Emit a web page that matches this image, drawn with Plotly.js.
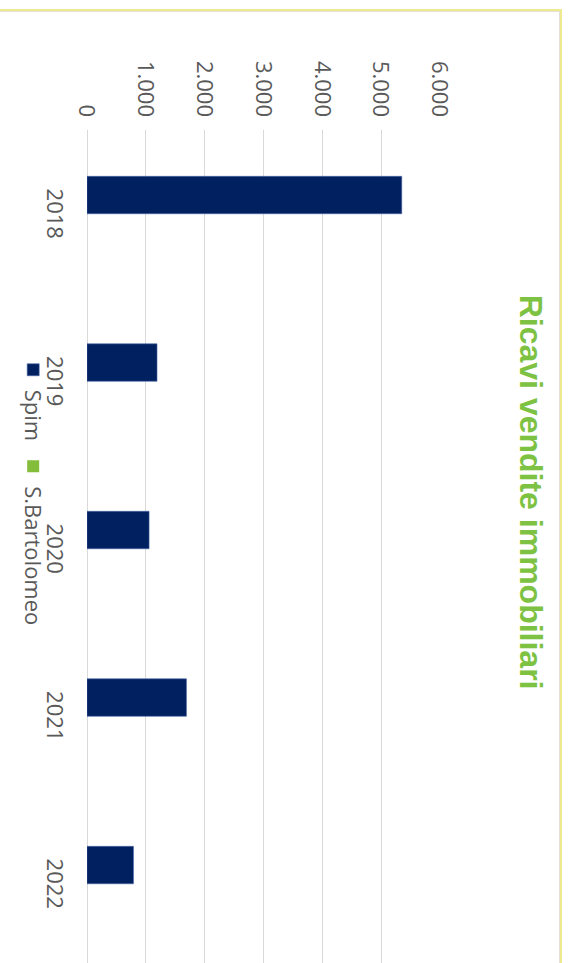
<!DOCTYPE html>
<html>
<head>
<meta charset="utf-8">
<script src="https://cdn.plot.ly/plotly-3.0.1.min.js"></script>
<style>
  html, body { margin: 0; padding: 0; background: #ffffff; overflow: hidden; }
  body { width: 582px; height: 963px; position: relative; }
  #wrap {
    position: absolute; left: 0; top: 0; width: 963px; height: 582px;
    transform-origin: 0 0; transform: translate(582px, 0) rotate(90deg);
    background: #ffffff;
  }
  #chart { position: absolute; left: 0; top: 0; width: 963px; height: 582px; }
  #frame {
    position: absolute; left: 9px; top: 20px; width: 960px; height: 570px;
    border-left: 2px solid #efe98f; border-top: 2px solid #efe98f;
    box-shadow: inset 1px 1px 0 #e4e0d8; pointer-events: none;
  }
</style>
</head>
<body>
<div id="wrap">
  <div id="chart"></div>
  <div id="frame"></div>
</div>
<script>
// Data
const years = ["2018", "2019", "2020", "2021", "2022"];
const spim = [5350, 1190, 1055, 1690, 790];
const sBartolomeo = [0, 0, 0, 0, 0];
const valueTicks = [0, 1000, 2000, 3000, 4000, 5000, 6000];
const valueTickLabels = ["0", "1.000", "2.000", "3.000", "4.000", "5.000", "6.000"];

const tickFont = { family: "Open Sans, Noto Sans, sans-serif", size: 22, color: "#595959" };

const traces = [
  { type: "bar", name: "Spim", x: years, y: spim,
    marker: { color: "#002060", line: { color: "#4a67a8", width: 0.6 } } },
  { type: "bar", name: "S.Bartolomeo", x: years, y: sBartolomeo,
    marker: { color: "#84bd3a" } }
];

const layout = {
  width: 963, height: 582,
  margin: { l: 129.5, r: 0, t: 142, b: 87 },
  paper_bgcolor: "rgba(0,0,0,0)", plot_bgcolor: "rgba(0,0,0,0)",
  barmode: "group", bargap: 0.553, bargroupgap: 0,
  showlegend: true,
  title: {
    text: "<b>Ricavi vendite immobiliari</b>",
    font: { family: "Liberation Sans, Arial, sans-serif", size: 32, color: "#7dc242" },
    xref: "container", yref: "container", x: 0.511, y: 0.912,
    xanchor: "center", yanchor: "middle"
  },
  xaxis: {
    type: "category", range: [-0.5, 4.473],
    showgrid: false, zeroline: false, showline: false, ticks: "",
    tickfont: tickFont, ticklabelstandoff: 17
  },
  yaxis: {
    range: [0, 6000], tickmode: "array", tickvals: valueTicks, ticktext: valueTickLabels,
    showgrid: true, gridcolor: "#d9d9d9", gridwidth: 1,
    zeroline: true, zerolinecolor: "#d9d9d9", zerolinewidth: 1,
    showline: false, ticks: "", tickfont: tickFont, ticklabelstandoff: 12
  },
  legend: {
    orientation: "h", x: 0.4325, xanchor: "center", y: -0.153, yanchor: "middle",
    font: tickFont, bgcolor: "rgba(0,0,0,0)", itemwidth: 30
  }
};

Plotly.newPlot("chart", traces, layout, { displayModeBar: false, staticPlot: true });
</script>
</body>
</html>
